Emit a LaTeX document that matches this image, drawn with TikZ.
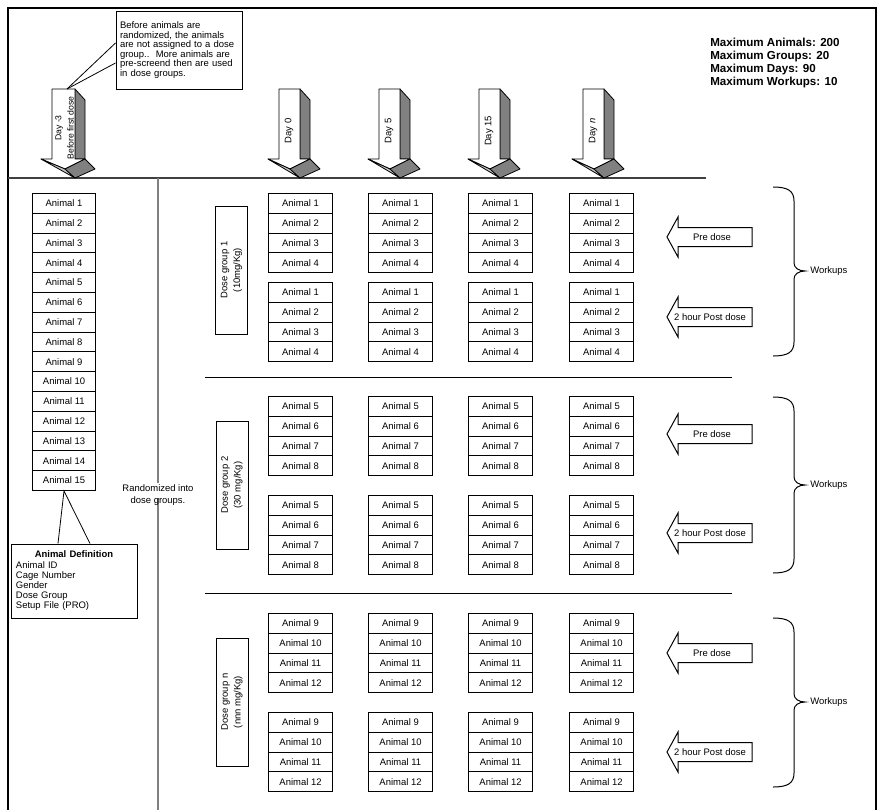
\documentclass[tikz,border=0pt]{standalone}
\usepackage{fontspec}
\setmainfont{Liberation Sans}
\newcommand\fsz{\fontsize{7.1}{7.1}\selectfont}
% #1 = left x of front face, #2 = width of front face
\newcommand\dayarrow[2]{%
  \path[darkface] (#1+#2,89) -- (#1+#2+10,100) -- (#1+#2+10,159) -- (#1+#2,159) -- cycle;
  \path[frontface] (#1,89) -- (#1+#2,89) -- (#1+#2,159) -- (#1+#2+10,159) -- (#1+#2-10,169) -- (#1-11,159) -- (#1,159) -- cycle;
  \path[lightface] (#1-11,159) -- (#1+#2-10,169) -- (#1+#2,178) -- cycle;
  \path[darkface] (#1+#2-10,169) -- (#1+#2+10,159) -- (#1+#2+20,169) -- (#1+#2,178) -- cycle;
}
\newcommand\leftblockarrow[1]{%
  \path[blockarrow] (752,#1-9.5) -- (678,#1-9.5) -- (678,#1-20) -- (667,#1) -- (678,#1+20) -- (678,#1+9.5) -- (752,#1+9.5) -- cycle;
}
\newcommand\bracepath[3]{%
  \path[brace] (773,#1) .. controls (788,#1) and (794,#1+4) .. (794,#1+14)
    -- (794,#2-8) .. controls (794,#2-3) and (799,#2) .. (805,#2)
    .. controls (799,#2) and (794,#2+3) .. (794,#2+8)
    -- (794,#3-14) .. controls (794,#3-4) and (788,#3) .. (773,#3);
}
\begin{document}
\begin{tikzpicture}[x=0.75pt,y=-0.75pt,
  animal/.style={draw, line width=0.75pt, inner sep=0pt, minimum width=48pt, minimum height=14.85pt, anchor=north west, font=\fsz},
  dosebox/.style={draw, line width=0.75pt, rotate=90, minimum width=96pt, minimum height=24pt, inner sep=0pt, align=center, font=\fontsize{7.1}{9.5}\selectfont},
  lbl/.style={inner sep=0pt, font=\fsz},
  darkface/.style={fill=black!50, draw, line width=0.6pt, line join=round},
  lightface/.style={fill=black!22, draw, line width=0.6pt, line join=round},
  frontface/.style={fill=white, draw, line width=0.6pt, line join=round},
  blockarrow/.style={fill=white, draw, line width=0.75pt},
  brace/.style={draw, line width=0.75pt},
  divider/.style={line width=0.75pt},
]
\useasboundingbox (0,0) rectangle (878,810);

% frame
\draw[line width=1.5pt] (8,810) -- (8,8) -- (876,8) -- (876,810);

% dividers
\draw[black!75, line width=1pt] (8,178) -- (706,178);
\draw[gray, line width=1.5pt] (158,178) -- (158,483);
\draw[gray, line width=1.5pt] (158,498) -- (158,810);
\draw[divider] (205,377) -- (732,377);
\draw[divider] (205,593) -- (732,593);

% maximum text
\node[anchor=north west, inner sep=0pt, align=left, font=\fontsize{8.7}{9.75}\selectfont\bfseries] (maxtext) at (710,38)
  {Maximum Animals: 200\\Maximum Groups: 20\\Maximum Days: 90\\Maximum Workups: 10};

% day arrows
\dayarrow{52}{23}
\node[lbl, rotate=90, align=center, font=\fontsize{6.5}{9.2}\selectfont] (dm3) at (64.5,128) {Day -3\\Before first dose};
\dayarrow{279}{21}
\node[lbl, rotate=90] (d0) at (289,131) {Day 0};
\dayarrow{379}{21}
\node[lbl, rotate=90] (d5) at (389,131) {Day 5};
\dayarrow{479}{21}
\node[lbl, rotate=90] (d15) at (489,131) {Day 15};
\dayarrow{583}{21}
\node[lbl, rotate=90] (dn) at (593,131) {Day \textit{n}};

% top callout
\node[draw, line width=0.75pt, minimum width=94.5pt, minimum height=58.5pt, text width=88.5pt, inner sep=0pt, align=left, font=\fontsize{7.1}{7.1}\selectfont] (callout) at (179,50)
  {Before animals are\\randomized, the animals\\are not assigned to a dose\\group..\ \ More animals are\\pre-screend then are used\\in dose groups.};
\coordinate (cpt) at (67,89);
\draw[line width=0.6pt] (cpt) -- ([yshift=5.25pt]callout.west);
\draw[line width=0.6pt] (cpt) -- ([yshift=-9.75pt]callout.west);

% left animal column
\foreach \r in {0,...,14}{
  \pgfmathtruncatemacro\n{\r+1}
  \node[animal, minimum width=47.25pt] (L\r) at (32,193+\r*19.8) {Animal \n};
}

% animal definition
\node[draw, line width=0.75pt, minimum width=94.5pt, minimum height=55.5pt, text width=87pt, inner sep=0pt, align=left, font=\fontsize{7.1}{7.65}\selectfont] (adef) at (74,581)
  {\makebox[87pt][c]{\textbf{Animal Definition}}\\Animal ID\\Cage Number\\Gender\\Dose Group\\Setup File (PRO)};
\draw[line width=0.6pt] ([xshift=-12pt]adef.north) -- (L14.south) -- ([xshift=12pt]adef.north);

\node[lbl, align=center, font=\fontsize{7.1}{9.2}\selectfont] (rand) at (158,495) {Randomized into\\dose groups.};

% dose group boxes
\node[dosebox] (dg1) at (231.5,270) {Dose group 1\\(10mg/Kg)};
\node[dosebox] (dg2) at (232,485) {Dose group 2\\(30 mg/Kg)};
\node[dosebox] (dgn) at (232,702) {Dose group n\\(nnn mg/Kg)};

% animal grids
\foreach \g/\ya/\yb/\a in {1/193/282/1, 2/396/495/5, 3/613/712/9}{
  \foreach \c/\xx in {1/268,2/368,3/468,4/569}{
    \foreach \r in {0,...,3}{
      \pgfmathtruncatemacro\n{\a+\r}
      \node[animal] (g\g u\c r\r) at (\xx,\ya+\r*19.8) {Animal \n};
      \node[animal] (g\g l\c r\r) at (\xx,\yb+\r*19.8) {Animal \n};
    }
  }
}

% workup arrows
\leftblockarrow{237}
\node[lbl] (pre1) at (712,237) {Pre dose};
\leftblockarrow{317}
\node[lbl] (post1) at (710,317) {2 hour Post dose};
\leftblockarrow{434}
\node[lbl] (pre2) at (712,434) {Pre dose};
\leftblockarrow{533}
\node[lbl] (post2) at (710,533) {2 hour Post dose};
\leftblockarrow{653}
\node[lbl] (pre3) at (712,653) {Pre dose};
\leftblockarrow{752}
\node[lbl] (post3) at (710,752) {2 hour Post dose};

% braces
\bracepath{187}{271}{356}
\node[lbl, anchor=west] (wk1) at (810,271) {Workups};
\bracepath{397}{485}{573}
\node[lbl, anchor=west] (wk2) at (810,485) {Workups};
\bracepath{618}{702}{787}
\node[lbl, anchor=west] (wk3) at (810,702) {Workups};
\end{tikzpicture}
\end{document}
